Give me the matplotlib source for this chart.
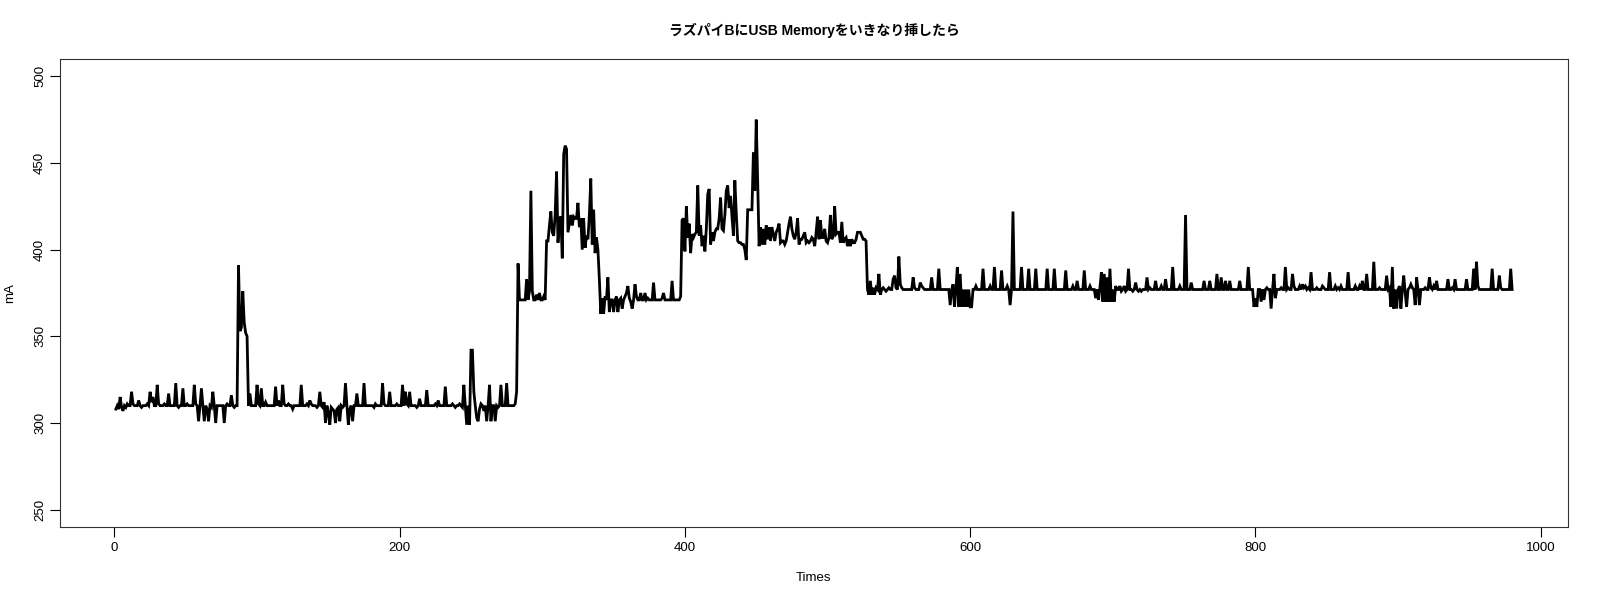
import matplotlib
matplotlib.use("Agg")
import matplotlib.pyplot as plt
import numpy as np

title = "ラズパイBにUSB Memoryをいきなり挿したら"
x_label = "Times"
y_label = "mA"
x_ticks = [0, 200, 400, 600, 800, 1000]
y_ticks = [250, 300, 350, 400, 450, 500]

# readings 1-100
seg_a = [308, 310, 308, 315, 309, 307, 310, 309, 311, 310,
         310, 318, 311, 310, 310, 310, 313, 310, 309, 310,
         310, 310, 311, 310, 318, 312, 315, 310, 310, 322,
         311, 310, 310, 310, 311, 310, 310, 317, 310, 310,
         310, 310, 323, 310, 309, 310, 310, 320, 310, 310,
         311, 310, 310, 310, 310, 322, 311, 310, 301, 310,
         320, 310, 301, 310, 308, 301, 310, 309, 318, 310,
         300, 310, 310, 310, 310, 310, 300, 310, 311, 310,
         310, 316, 310, 309, 310, 310, 391, 353, 355, 376,
         358, 352, 350, 310, 317, 310, 310, 310, 310, 322]
# readings 101-200
seg_b = [311, 310, 320, 310, 310, 312, 310, 310, 310, 310,
         310, 310, 321, 310, 313, 310, 310, 322, 311, 310,
         310, 311, 310, 310, 308, 310, 310, 310, 310, 310,
         322, 310, 310, 310, 311, 310, 313, 311, 310, 310,
         310, 309, 310, 318, 310, 309, 312, 300, 310, 306,
         299, 309, 308, 307, 300, 308, 309, 301, 310, 309,
         310, 323, 310, 299, 308, 310, 301, 310, 310, 317,
         310, 310, 310, 310, 323, 310, 310, 310, 310, 310,
         310, 309, 311, 310, 310, 310, 310, 323, 311, 310,
         310, 310, 318, 310, 310, 310, 310, 311, 310, 310]
# readings 201-300
seg_c = [310, 322, 310, 318, 311, 310, 318, 310, 310, 310,
         310, 309, 310, 314, 310, 310, 310, 310, 319, 310,
         310, 310, 310, 310, 311, 310, 313, 310, 310, 310,
         310, 321, 310, 310, 310, 310, 311, 310, 309, 310,
         310, 311, 310, 309, 322, 310, 299, 310, 299, 342,
         342, 318, 310, 303, 301, 308, 311, 310, 307, 310,
         301, 310, 322, 301, 310, 310, 301, 310, 309, 310,
         322, 310, 310, 310, 323, 310, 310, 310, 310, 310,
         311, 318, 392, 371, 371, 371, 371, 371, 383, 371,
         376, 434, 376, 371, 371, 374, 371, 375, 371, 371]
# readings 301-400
seg_d = [373, 371, 405, 405, 414, 422, 410, 408, 420, 445,
         404, 418, 419, 395, 455, 460, 458, 410, 415, 420,
         414, 419, 418, 418, 427, 413, 418, 400, 418, 401,
         408, 406, 420, 441, 403, 423, 398, 407, 400, 383,
         363, 372, 363, 373, 371, 384, 364, 371, 371, 364,
         371, 373, 364, 371, 372, 366, 371, 373, 375, 379,
         372, 370, 366, 371, 380, 373, 371, 371, 375, 371,
         371, 375, 371, 372, 371, 371, 371, 381, 371, 371,
         371, 371, 371, 372, 375, 371, 371, 371, 371, 371,
         382, 371, 371, 371, 371, 371, 373, 417, 418, 399]
# readings 401-500
seg_e = [425, 407, 415, 398, 409, 407, 409, 410, 437, 408,
         414, 402, 408, 399, 412, 432, 435, 403, 410, 405,
         410, 412, 412, 418, 430, 412, 411, 420, 434, 437,
         424, 431, 419, 408, 440, 421, 405, 404, 404, 403,
         403, 400, 394, 423, 423, 423, 423, 456, 434, 475,
         440, 402, 413, 403, 412, 403, 414, 406, 413, 405,
         413, 409, 405, 410, 412, 415, 404, 405, 405, 403,
         405, 410, 415, 419, 412, 408, 406, 410, 418, 403,
         406, 406, 408, 410, 404, 405, 404, 405, 407, 406,
         402, 410, 419, 406, 417, 407, 407, 412, 405, 404]
# readings 501-600
seg_f = [407, 420, 406, 408, 425, 409, 410, 410, 404, 416,
         404, 406, 407, 402, 406, 402, 406, 404, 404, 406,
         410, 410, 410, 408, 406, 406, 405, 377, 374, 382,
         374, 378, 374, 378, 377, 386, 374, 377, 378, 377,
         376, 377, 378, 377, 377, 383, 385, 378, 377, 396,
         380, 378, 377, 377, 377, 377, 377, 377, 377, 384,
         378, 377, 377, 377, 381, 379, 378, 377, 377, 377,
         377, 377, 384, 377, 377, 377, 377, 389, 377, 377,
         377, 377, 377, 377, 377, 368, 377, 380, 367, 377,
         390, 367, 386, 367, 377, 367, 377, 367, 377, 367]
# readings 601-700
seg_g = [367, 377, 377, 379, 377, 377, 377, 377, 389, 377,
         377, 377, 377, 379, 377, 377, 390, 377, 377, 377,
         377, 388, 377, 377, 377, 379, 377, 368, 377, 422,
         377, 377, 377, 377, 377, 390, 377, 377, 377, 377,
         389, 377, 377, 377, 377, 389, 377, 377, 377, 377,
         377, 377, 377, 389, 377, 377, 377, 377, 389, 377,
         377, 377, 377, 377, 377, 377, 388, 377, 377, 377,
         377, 379, 377, 377, 382, 377, 377, 377, 377, 388,
         377, 377, 377, 379, 377, 377, 377, 372, 377, 371,
         378, 387, 370, 386, 370, 384, 370, 389, 370, 377]
# readings 701-800
seg_h = [370, 379, 377, 377, 379, 376, 377, 379, 376, 377,
         389, 377, 377, 376, 377, 381, 377, 376, 377, 376,
         377, 377, 377, 384, 377, 378, 377, 377, 377, 382,
         377, 377, 377, 379, 377, 377, 383, 377, 377, 377,
         377, 390, 377, 377, 377, 377, 379, 377, 377, 377,
         420, 377, 377, 377, 381, 377, 377, 377, 377, 377,
         377, 377, 377, 382, 377, 377, 377, 382, 377, 377,
         377, 377, 386, 377, 377, 384, 377, 377, 382, 377,
         377, 382, 377, 377, 377, 377, 377, 377, 382, 377,
         377, 377, 377, 377, 390, 377, 377, 377, 367, 372]
# readings 801-900
seg_i = [367, 377, 377, 370, 377, 371, 377, 378, 377, 377,
         366, 377, 386, 372, 377, 377, 377, 378, 377, 377,
         390, 377, 378, 377, 377, 386, 379, 377, 377, 377,
         379, 377, 380, 378, 379, 377, 378, 377, 387, 377,
         377, 377, 378, 377, 377, 377, 379, 378, 377, 377,
         377, 387, 377, 377, 377, 379, 377, 378, 377, 379,
         377, 377, 377, 377, 387, 377, 377, 377, 377, 379,
         377, 377, 379, 377, 382, 377, 377, 386, 377, 377,
         377, 377, 393, 377, 377, 377, 378, 377, 377, 377,
         377, 385, 377, 378, 367, 390, 366, 377, 366, 377]
# readings 901-980
seg_j = [379, 366, 377, 385, 375, 367, 377, 378, 380, 378,
         377, 368, 384, 377, 368, 377, 377, 377, 378, 377,
         377, 384, 378, 377, 379, 377, 382, 377, 377, 377,
         377, 377, 377, 377, 383, 377, 377, 378, 377, 383,
         377, 377, 377, 377, 377, 377, 377, 383, 377, 377,
         377, 377, 389, 377, 393, 379, 377, 377, 377, 377,
         377, 377, 377, 377, 377, 389, 377, 377, 377, 377,
         385, 378, 377, 377, 377, 377, 377, 377, 389, 377]

values = np.array(seg_a + seg_b + seg_c + seg_d + seg_e + seg_f +
                  seg_g + seg_h + seg_i + seg_j, dtype=float)
times = np.arange(1, len(values) + 1)

fam = ['Liberation Sans', 'Noto Sans CJK JP', 'DejaVu Sans']
plt.rcParams['font.family'] = fam

fig = plt.figure(figsize=(16, 6), dpi=100)
ax = fig.add_axes([0.0375, 0.1217, 0.9425, 0.78])
ax.plot(times, values, color='black', linewidth=2.0, solid_joinstyle='miter')

pad_x = 0.04 * (times[-1] - times[0])
ax.set_xlim(times[0] - pad_x, times[-1] + pad_x)
ax.set_ylim(240, 510)
ax.set_xticks(x_ticks)
ax.set_yticks(y_ticks)
ax.set_yticklabels([str(v) for v in y_ticks], rotation=90, va='center')
ax.tick_params(axis='both', direction='out', length=7, width=0.8,
               labelsize=9.5, colors='black')
ax.tick_params(axis='x', pad=4)
ax.tick_params(axis='y', pad=3)
for s in ax.spines.values():
    s.set_linewidth(0.8)
    s.set_color('#333333')

ax.set_xlabel(x_label, fontsize=9.5, labelpad=13)
fig.text(10 / 1600, 1 - 293 / 600, y_label, rotation=90, ha='center',
         va='center', fontsize=9.5)
fig.text((60 + 1568) / 2 / 1600, 1 - 30 / 600, title, ha='center',
         va='center', fontsize=10, fontweight='bold', family=fam)

fig.savefig('out.png', dpi=100, facecolor='white')
